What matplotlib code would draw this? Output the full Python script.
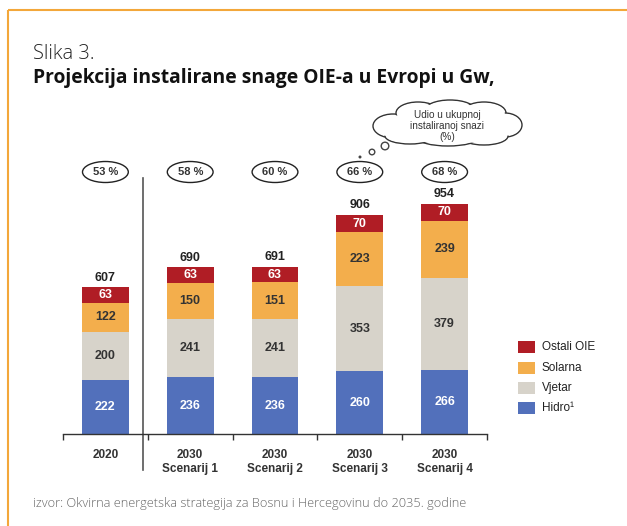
import matplotlib
matplotlib.use("Agg")
import matplotlib.pyplot as plt
from matplotlib.patches import Ellipse, Circle, Rectangle
from matplotlib.lines import Line2D

categories = ["2020", "2030\nScenarij 1", "2030\nScenarij 2", "2030\nScenarij 3", "2030\nScenarij 4"]
hidro = [222, 236, 236, 260, 266]
vjetar = [200, 241, 241, 353, 379]
solarna = [122, 150, 151, 223, 239]
ostali = [63, 63, 63, 70, 70]
totals = [607, 690, 691, 906, 954]
shares = ["53 %", "58 %", "60 %", "66 %", "68 %"]
series_names = ["Hidro\u00b9", "Vjetar", "Solarna", "Ostali OIE"]

colors = {"hidro": "#5270bb", "vjetar": "#d7d3ca", "solarna": "#f3ae4c", "ostali": "#b01d25"}

W, H = 627, 526
fig = plt.figure(figsize=(W / 100, H / 100), dpi=100)
fig.patch.set_facecolor("white")

FONT = "Liberation Sans"

# main axes: left 63px, right 487px, bottom 434px, top 150px
ax = fig.add_axes([63 / W, (H - 434) / H, 424 / W, 284 / H])
ax.set_facecolor("none")
ymax = 284 / 0.2415
ax.set_xlim(-0.5, 4.5)
ax.set_ylim(0, ymax)

x = list(range(len(categories)))
bw = 0.55
stack = [("hidro", hidro, "white"), ("vjetar", vjetar, "#333333"),
         ("solarna", solarna, "#333333"), ("ostali", ostali, "white")]
bottom = [0] * len(x)
for key, vals, tcol in stack:
    ax.bar(x, vals, bw, bottom=bottom, color=colors[key], edgecolor="none", zorder=2)
    for i, v in enumerate(vals):
        ax.text(x[i], bottom[i] + v / 2, str(v), ha="center", va="center",
                color=tcol, fontsize=9, fontweight="bold", family=FONT, zorder=3)
    bottom = [b + v for b, v in zip(bottom, vals)]

for i, t in enumerate(totals):
    ax.text(x[i], t + 16, str(t), ha="center", va="bottom", color="#222222",
            fontsize=9, fontweight="bold", family=FONT)

# share ellipses
ey = (434 - 172) / 0.2415
for i, s in enumerate(shares):
    ax.add_patch(Ellipse((x[i], ey), 0.54, 21 / 0.2415, facecolor="white",
                         edgecolor="#222222", lw=1.0, zorder=3, clip_on=False))
    ax.text(x[i], ey, s, ha="center", va="center", fontsize=8, fontweight="bold",
            color="#333333", family=FONT, zorder=4)

# axis styling
for sp in ["top", "right", "left"]:
    ax.spines[sp].set_visible(False)
ax.spines["bottom"].set_color("#333333")
ax.spines["bottom"].set_linewidth(1.0)
ax.set_yticks([])
ax.set_xticks([-0.5, 0.5, 1.5, 2.5, 3.5, 4.5])
ax.set_xticklabels([])
ax.tick_params(axis="x", direction="out", length=4, color="#333333", width=1)
ax.set_xticks(x, minor=True)
ax.set_xticklabels(categories, minor=True, fontsize=8.5, fontweight="bold",
                   family=FONT, color="#333333", linespacing=1.2, va="top")
ax.tick_params(axis="x", which="minor", length=0, pad=11)

# separator line
sep = 0.44
ax.add_line(Line2D([sep, sep], [-36 / 0.2415, (434 - 178) / 0.2415], color="#555555",
                   lw=1.2, clip_on=False))

# overlay axes in pixel coordinates for decorations
ov = fig.add_axes([0, 0, 1, 1])
ov.set_xlim(0, W)
ov.set_ylim(H, 0)
ov.axis("off")
ov.patch.set_alpha(0)

# orange frame
orange = "#f3a73a"
ov.plot([8, W], [10, 10], color=orange, lw=1.5, solid_capstyle="butt")
ov.plot([8, 8], [10, H], color=orange, lw=1.5, solid_capstyle="butt")

# title
fig.text(33 / W, 1 - 54 / H, "Slika 3.", fontsize=14.5, family="Open Sans",
         fontweight="light", color="#222222", va="center")
fig.text(33 / W, 1 - 78 / H, "Projekcija instalirane snage OIE-a u Evropi u Gw,",
         fontsize=13.9, family="Open Sans", fontweight="bold", color="#111111", va="center")

# source
fig.text(33 / W, 1 - 503 / H,
         "izvor: Okvirna energetska strategija za Bosnu i Hercegovinu do 2035. godine",
         fontsize=9.2, family="Open Sans", fontweight="light", color="#666666", va="center")

# cloud callout
cloud = [(393, 126, 20, 12), (418, 113, 22, 11), (450, 110, 25, 10), (484, 113, 22, 11),
         (505, 125, 17, 12), (484, 136, 24, 9), (448, 138, 30, 8), (410, 136, 25, 8)]
for cx, cy, rx, ry in cloud:
    ov.add_patch(Ellipse((cx, cy), 2 * rx, 2 * ry, facecolor="white", edgecolor="#333333",
                         lw=1.0, zorder=5))
for cx, cy, rx, ry in cloud:
    ov.add_patch(Ellipse((cx, cy), 2 * rx - 2.4, 2 * ry - 2.4, facecolor="white",
                         edgecolor="none", zorder=6))
ov.add_patch(Ellipse((448, 124), 130, 26, facecolor="white", edgecolor="none", zorder=6))
ov.text(447, 126, "Udio u ukupnoj\ninstaliranoj snazi\n(%)", ha="center", va="center",
        fontsize=7.2, family=FONT, color="#333333", linespacing=1.1, zorder=7)
ov.add_patch(Circle((360, 157), 1.5, facecolor="#444444", edgecolor="none", zorder=5))
ov.add_patch(Circle((372, 152), 2.8, facecolor="white", edgecolor="#444444", lw=1, zorder=5))
ov.add_patch(Circle((385, 146), 3.8, facecolor="white", edgecolor="#444444", lw=1, zorder=5))

# legend
leg = [("ostali", series_names[3], 347), ("solarna", series_names[2], 368),
       ("vjetar", series_names[1], 388), ("hidro", series_names[0], 408)]
for key, name, yy in leg:
    ov.add_patch(Rectangle((518, yy - 6), 17, 12, facecolor=colors[key], edgecolor="none"))
    ov.text(542, yy, name, ha="left", va="center", fontsize=8.5, family=FONT, color="#222222")

fig.savefig("out.png", dpi=100, facecolor="white")
